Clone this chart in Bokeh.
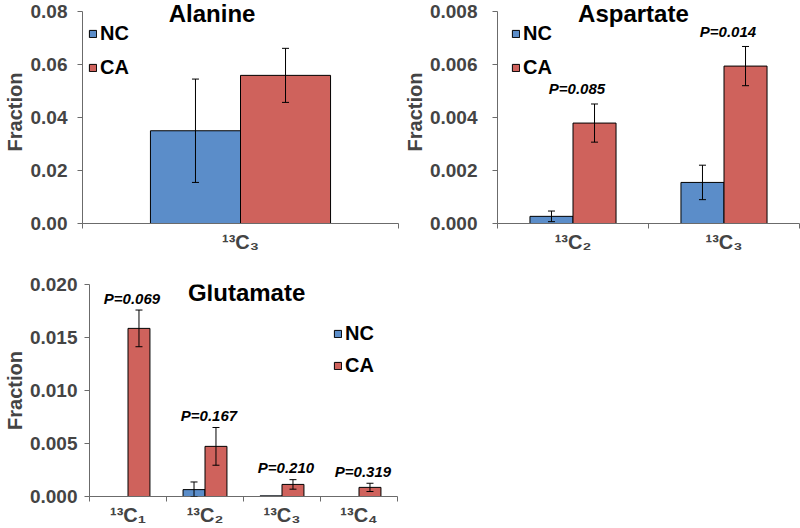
from bokeh.plotting import figure
from bokeh.models import (Range1d, FixedTicker, NumeralTickFormatter, CustomJSTickFormatter,
                          Whisker, TeeHead, ColumnDataSource, Legend, LegendItem, Label)
from bokeh.layouts import column, row
from bokeh.embed import file_html
from bokeh.resources import INLINE
from bokeh.core.properties import value

# ---------------- data ----------------
series = ["NC", "CA"]

ala_title = "Alanine"
ala_cats = ["¹³C₃"]
ala_nc = [0.0350]
ala_nc_err = [0.0195]
ala_ca = [0.0559]
ala_ca_err = [0.0102]
ala_p = [""]
ala_yticks = [0.0, 0.02, 0.04, 0.06, 0.08]

asp_title = "Aspartate"
asp_cats = ["¹³C₂", "¹³C₃"]
asp_nc = [0.00027, 0.00155]
asp_nc_err = [0.00020, 0.00065]
asp_ca = [0.00379, 0.00594]
asp_ca_err = [0.00072, 0.00074]
asp_p = ["P=0.085", "P=0.014"]
asp_yticks = [0.0, 0.002, 0.004, 0.006, 0.008]

glu_title = "Glutamate"
glu_cats = ["¹³C₁", "¹³C₂", "¹³C₃", "¹³C₄"]
glu_nc = [0.0, 0.00065, 0.00006, 0.0]
glu_nc_err = [0.0, 0.00072, 0.0, 0.0]
glu_ca = [0.01586, 0.00473, 0.00114, 0.00086]
glu_ca_err = [0.00173, 0.00178, 0.00045, 0.00039]
glu_p = ["P=0.069", "P=0.167", "P=0.210", "P=0.319"]
glu_yticks = [0.0, 0.005, 0.010, 0.015, 0.020]

# ---------------- style ----------------
FONT = "Liberation Sans"
BLUE = "#5B8DC9"
RED = "#CF625C"
AXIS = "#6b6b6b"
BW = 0.285
ITEM_H = 25


def panel(title, cats, nc, nc_err, ca, ca_err, pvals, yticks, yfmt,
          width, height, lb, rb, tb, bb, top_pad, title_fx, title_dy,
          leg_dx, leg_top, leg_spacing, tick_standoff, label_standoff, p_dy):
    n = len(cats)
    fh = height - tb - bb
    ymax = yticks[-1]
    # extend the frame above the last tick so that the panel title can sit there
    ytop = ymax * fh / (fh - top_pad)
    p = figure(width=width, height=height, output_backend="svg", toolbar_location=None,
               x_range=Range1d(0, n), y_range=Range1d(0, ytop), title=None,
               min_border_left=lb, min_border_right=rb, min_border_top=tb, min_border_bottom=bb)
    p.outline_line_color = None
    p.xgrid.visible = False
    p.ygrid.visible = False
    p.background_fill_color = "white"
    p.border_fill_color = "white"

    centers = [i + 0.5 for i in range(n)]
    x_nc = [c - BW / 2 for c in centers]
    x_ca = [c + BW / 2 for c in centers]
    r_nc = p.vbar(x=x_nc, top=nc, bottom=0, width=BW, fill_color=BLUE,
                  line_color="black", line_width=1)
    r_ca = p.vbar(x=x_ca, top=ca, bottom=0, width=BW, fill_color=RED,
                  line_color="black", line_width=1)

    xs, up, lo = [], [], []
    for xx, v, e in list(zip(x_nc, nc, nc_err)) + list(zip(x_ca, ca, ca_err)):
        if e > 0:
            xs.append(xx)
            up.append(v + e)
            lo.append(max(v - e, 0))
    src = ColumnDataSource(dict(base=xs, upper=up, lower=lo))
    w = Whisker(source=src, base="base", upper="upper", lower="lower",
                line_color="black", line_width=1, level="overlay",
                upper_head=TeeHead(size=7, line_color="black", line_width=1),
                lower_head=TeeHead(size=7, line_color="black", line_width=1))
    p.add_layout(w)

    # p-value labels
    px, py, pt = [], [], []
    for c, v, e, t in zip(centers, ca, ca_err, pvals):
        if t:
            px.append(c)
            py.append(v + e)
            pt.append(t)
    if pt:
        p.text(x=px, y=py, text=pt, text_font=value(FONT), text_font_style="bold italic",
               text_font_size="15px", text_align="center", text_baseline="alphabetic",
               x_offset=4, y_offset=p_dy, text_color="black")

    # panel title
    p.add_layout(Label(x=title_fx * n, y=ytop * (1 - title_dy / fh), text=title,
                       text_font=FONT, text_font_style="bold", text_font_size="24px",
                       text_align="center", text_baseline="alphabetic", text_color="black"))

    # legend
    leg_h = 2 * ITEM_H + leg_spacing
    legend = Legend(items=[LegendItem(label=series[0], renderers=[r_nc]),
                           LegendItem(label=series[1], renderers=[r_ca])],
                    location=(leg_dx, fh - leg_top - leg_h),
                    orientation="vertical", padding=0, margin=0, spacing=leg_spacing,
                    glyph_width=9, glyph_height=9, label_height=ITEM_H, label_standoff=3,
                    label_text_font=FONT, label_text_font_style="bold",
                    label_text_font_size="20px", label_text_color="black",
                    background_fill_alpha=0, border_line_color=None)
    p.add_layout(legend)

    # y axis
    ya = p.yaxis[0]
    ya.ticker = FixedTicker(ticks=yticks)
    ya.bounds = (0, ymax)
    ya.formatter = NumeralTickFormatter(format=yfmt)
    ya.axis_label = "Fraction"
    ya.axis_label_text_font = FONT
    ya.axis_label_text_font_style = "bold"
    ya.axis_label_text_font_size = "20px"
    ya.axis_label_standoff = label_standoff
    ya.major_label_text_font = FONT
    ya.major_label_text_font_style = "bold"
    ya.major_label_text_font_size = "19px"
    ya.major_label_standoff = tick_standoff
    ya.major_tick_out = 5
    ya.major_tick_in = 0
    ya.minor_tick_line_color = None
    ya.axis_line_color = AXIS
    ya.major_tick_line_color = AXIS

    # x axis: labels at centers, ticks at category boundaries
    xa = p.xaxis[0]
    xa.ticker = FixedTicker(ticks=centers, minor_ticks=list(range(n + 1)))
    xa.formatter = CustomJSTickFormatter(args=dict(labels=cats),
                                         code="const i = Math.floor(tick); return (i >= 0 && i < labels.length) ? labels[i] : '';")
    xa.major_tick_line_color = None
    xa.major_tick_out = 0
    xa.major_tick_in = 0
    xa.minor_tick_out = 5
    xa.minor_tick_in = 0
    xa.minor_tick_line_color = AXIS
    xa.axis_line_color = AXIS
    xa.major_label_text_font = FONT
    xa.major_label_text_font_style = "bold"
    xa.major_label_text_font_size = "20px"
    xa.major_label_standoff = 2
    return p


pa = panel(ala_title, ala_cats, ala_nc, ala_nc_err, ala_ca, ala_ca_err, ala_p, ala_yticks, "0.00",
           width=400, height=262, lb=82, rb=2, tb=0, bb=39, top_pad=11,
           title_fx=0.41, title_dy=12.5, leg_dx=6, leg_top=21, leg_spacing=9,
           tick_standoff=10, label_standoff=2, p_dy=-12)
pb = panel(asp_title, asp_cats, asp_nc, asp_nc_err, asp_ca, asp_ca_err, asp_p, asp_yticks, "0.000",
           width=400, height=262, lb=96, rb=1, tb=0, bb=39, top_pad=11,
           title_fx=0.45, title_dy=12.5, leg_dx=14, leg_top=21, leg_spacing=9,
           tick_standoff=15, label_standoff=1, p_dy=-15)
pc = panel(glu_title, glu_cats, glu_nc, glu_nc_err, glu_ca, glu_ca_err, glu_p, glu_yticks, "0.000",
           width=400, height=266, lb=86, rb=3, tb=22, bb=29, top_pad=0,
           title_fx=0.51, title_dy=8, leg_dx=244, leg_top=40, leg_spacing=7,
           tick_standoff=7, label_standoff=1, p_dy=-12)

layout = column(row(pa, pb, spacing=0), pc, spacing=0)

with open("out.html", "w") as f:
    f.write(file_html(layout, INLINE))
